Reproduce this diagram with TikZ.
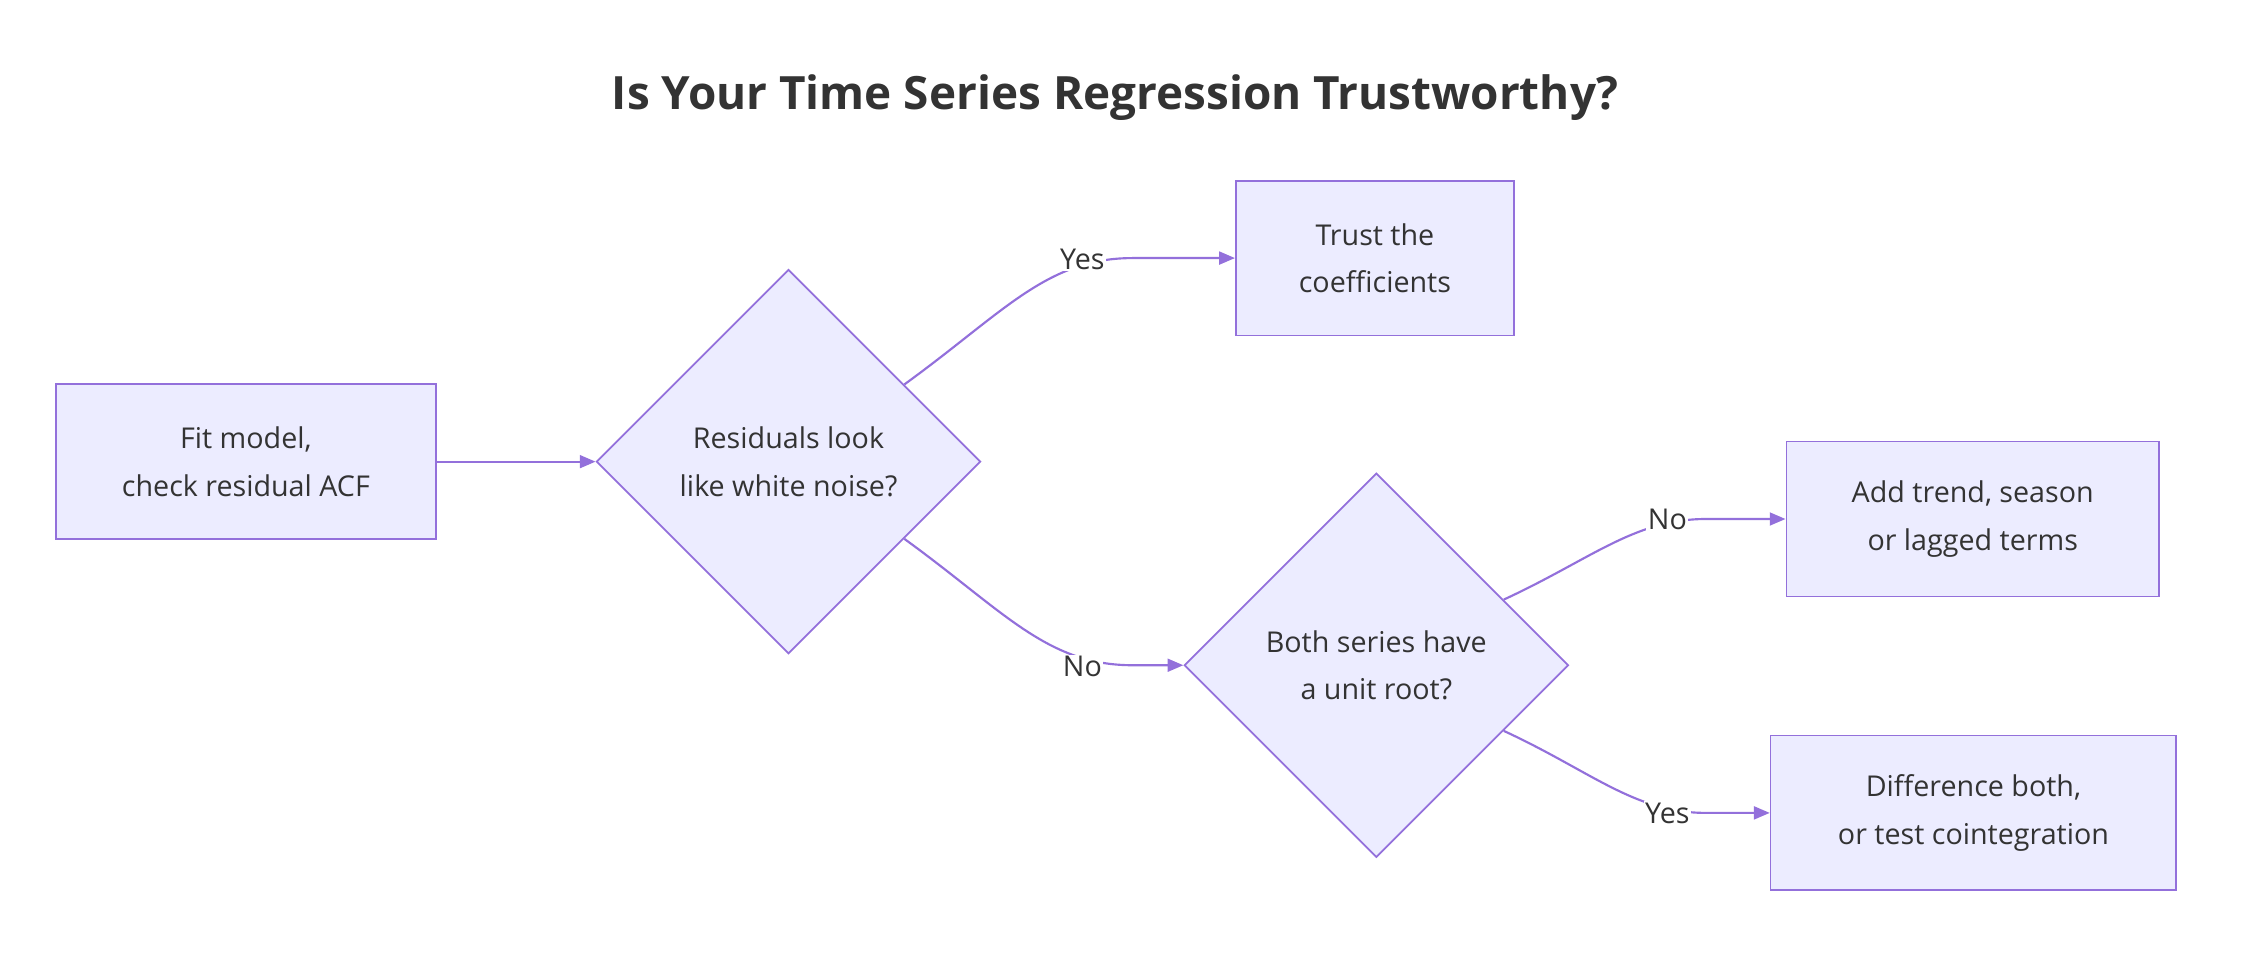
\documentclass[tikz,border=0pt]{standalone}
\usepackage{fontspec}
\setmainfont{Open Sans}
\usetikzlibrary{shapes.geometric,arrows.meta,calc}
\definecolor{nfill}{HTML}{ECECFF}
\definecolor{nline}{HTML}{9370DB}
\definecolor{ntext}{HTML}{333333}
\begin{document}
\begin{tikzpicture}[x=1pt,y=1pt,
  box/.style={draw=nline,fill=nfill,line width=1.2pt,text=ntext,font=\fontsize{20}{33}\selectfont,align=center,inner sep=0},
  dia/.style={diamond,draw=nline,fill=nfill,line width=1.2pt,text=ntext,font=\fontsize{20}{33}\selectfont,align=center,inner sep=0,minimum width=268pt,minimum height=268pt},
  edge/.style={draw=nline,line width=1.5pt,-{Triangle[length=11pt,width=9pt]}},
  lbl/.style={text=ntext,font=\fontsize{20}{24}\selectfont,fill=white,inner sep=1pt}]
\path[use as bounding box] (0,0) rectangle (1568,-665);
\node[text=ntext,font=\fontsize{32}{38}\selectfont\bfseries] (title) at (778,-68) {Is Your Time Series Regression Trustworthy?};
\node[box,minimum width=265pt,minimum height=108pt] (fit) at (171.5,-322) {Fit model,\\check residual ACF};
\node[dia] (d1) at (550,-322) {Residuals look\\like white noise?};
\node[box,minimum width=194pt,minimum height=108pt] (trust) at (959,-180) {Trust the\\coefficients};
\node[dia] (d2) at (960,-464) {Both series have\\a unit root?};
\node[box,minimum width=260pt,minimum height=108pt] (add) at (1376,-362) {Add trend, season\\or lagged terms};
\node[box,minimum width=283pt,minimum height=108pt] (diff) at (1376.5,-567) {Difference both,\\or test cointegration};
\coordinate (a1) at ($(d1.north)!0.6!(d1.east)$);
\coordinate (a2) at ($(d1.south)!0.6!(d1.east)$);
\coordinate (b1) at ($(d2.north)!0.66!(d2.east)$);
\coordinate (b2) at ($(d2.south)!0.66!(d2.east)$);
\draw[edge] (fit.east) -- (d1.west);
\draw[edge] (a1) .. controls (700,-218) and (730,-180) .. (790,-180) -- (trust.west);
\draw[edge] (a2) .. controls (700,-426) and (730,-464) .. (790,-464) -- (d2.west);
\draw[edge] (b1) .. controls (1110,-390) and (1140,-362) .. (1190,-362) -- (add.west);
\draw[edge] (b2) .. controls (1110,-538) and (1140,-567) .. (1190,-567) -- (diff.west);
\node[lbl] (ly1) at (755,-181) {Yes};
\node[lbl] (ln1) at (755,-465) {No};
\node[lbl] (ln2) at (1163,-362) {No};
\node[lbl] (ly2) at (1163,-567) {Yes};
\end{tikzpicture}
\end{document}
